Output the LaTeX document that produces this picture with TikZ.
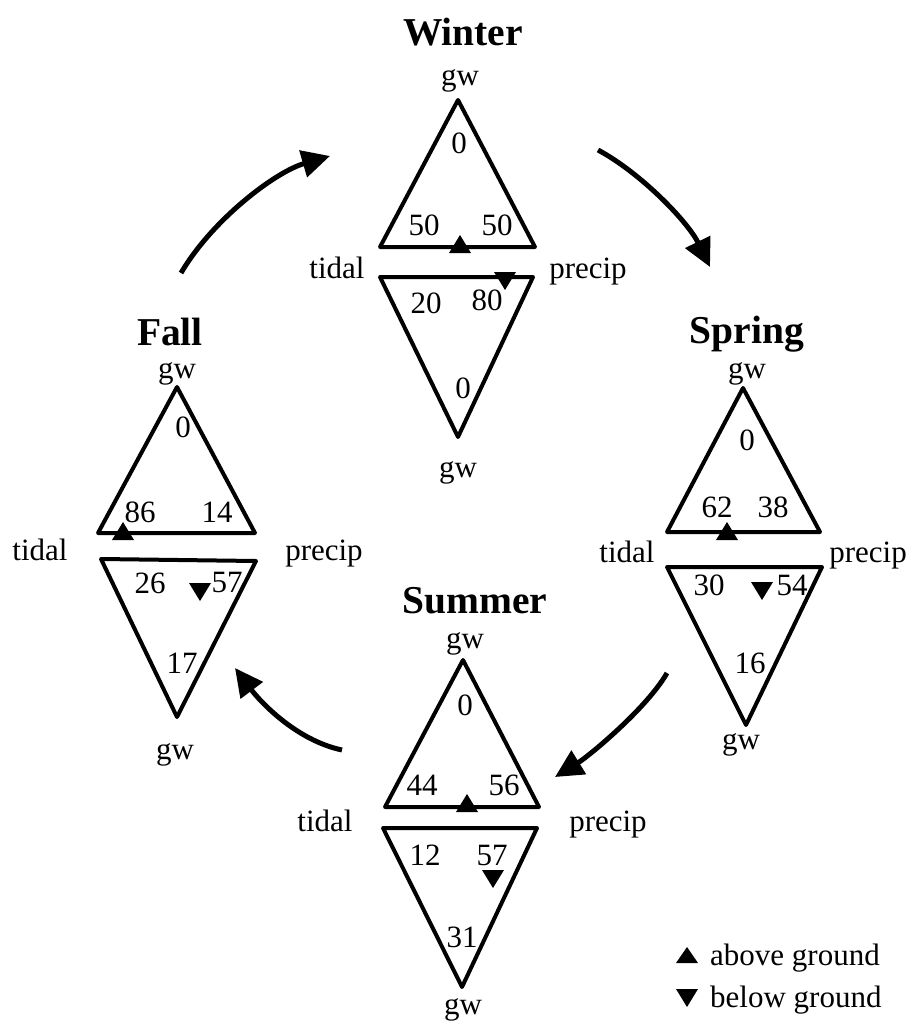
\documentclass[tikz,border=0pt]{standalone}
\usepackage{fontspec}
\setmainfont{Liberation Serif}
\usetikzlibrary{arrows.meta}
\tikzset{
  lbl/.style={font=\fontsize{31}{37}\selectfont, inner sep=0pt, anchor=base},
  ttl/.style={font=\fontsize{39.5}{45}\selectfont\bfseries, inner sep=0pt, anchor=base},
  tri/.style={line width=4pt, line join=round},
  flow/.style={line width=5pt, -{Triangle[length=28pt,width=27pt]}},
}
\newcommand\upmk[1]{\fill (#1) +(-11,9) -- +(11,9) -- +(0,-9) -- cycle;}
\newcommand\dnmk[1]{\fill (#1) +(-11,-9) -- +(11,-9) -- +(0,9) -- cycle;}
\begin{document}
\begin{tikzpicture}[x=1pt,y=-1pt]
\useasboundingbox (0,0) rectangle (914,1036);

% ---------- Winter ----------
\draw[tri] (458,100) -- (535,247) -- (380,247) -- cycle;
\draw[tri] (380,277) -- (533,277) -- (458,437) -- cycle;
\upmk{460,244}
\dnmk{505,281}
\node[ttl] (wT) at (463,45) {Winter};
\node[lbl] (wg1) at (460,85) {gw};
\node[lbl] (wa) at (459,153) {0};
\node[lbl] (wb) at (424,235) {50};
\node[lbl] (wc) at (497,235) {50};
\node[lbl] (wtd) at (337,278) {tidal};
\node[lbl] (wpr) at (588,278) {precip};
\node[lbl] (wd) at (426,313) {20};
\node[lbl] (we) at (487,310) {80};
\node[lbl] (wf) at (463,398) {0};
\node[lbl] (wg2) at (458,477) {gw};

% ---------- Fall ----------
\draw[tri] (177,387) -- (255,533) -- (98,533) -- cycle;
\draw[tri] (101,559) -- (256,561) -- (177,717) -- cycle;
\upmk{123,531}
\dnmk{200,592}
\node[ttl] (fT) at (170,345) {Fall};
\node[lbl] (fg1) at (177,378) {gw};
\node[lbl] (fa) at (183,437) {0};
\node[lbl] (fb) at (140,522) {86};
\node[lbl] (fc) at (217,522) {14};
\node[lbl] (ftd) at (40,560) {tidal};
\node[lbl] (fpr) at (324,560) {precip};
\node[lbl] (fd) at (150,593) {26};
\node[lbl] (fe) at (227,592) {57};
\node[lbl] (ff) at (182,673) {17};
\node[lbl] (fg2) at (175,759) {gw};

% ---------- Spring ----------
\draw[tri] (743,388) -- (820,532) -- (667,532) -- cycle;
\draw[tri] (667,567) -- (822,567) -- (746,725) -- cycle;
\upmk{727,531}
\dnmk{762,591}
\node[ttl] (sT) at (747,343) {Spring};
\node[lbl] (sg1) at (747,378) {gw};
\node[lbl] (sa) at (747,450) {0};
\node[lbl] (sb) at (717,517) {62};
\node[lbl] (sc) at (773,517) {38};
\node[lbl] (std) at (627,562) {tidal};
\node[lbl] (spr) at (868,562) {precip};
\node[lbl] (sd) at (709,595) {30};
\node[lbl] (se) at (792,595) {54};
\node[lbl] (sf) at (750,673) {16};
\node[lbl] (sg2) at (741,749) {gw};

% ---------- Summer ----------
\draw[tri] (463,660) -- (539,807) -- (385,807) -- cycle;
\draw[tri] (383,828) -- (537,828) -- (462,987) -- cycle;
\upmk{467,803}
\dnmk{493,879}
\node[ttl] (uT) at (475,613) {Summer};
\node[lbl] (ug1) at (465,648) {gw};
\node[lbl] (ua) at (465,715) {0};
\node[lbl] (ub) at (422,795) {44};
\node[lbl] (uc) at (504,795) {56};
\node[lbl] (utd) at (325,831) {tidal};
\node[lbl] (upr) at (608,831) {precip};
\node[lbl] (ud) at (425,865) {12};
\node[lbl] (ue) at (492,865) {57};
\node[lbl] (uf) at (462,947) {31};
\node[lbl] (ug2) at (463,1014) {gw};

% ---------- cycle arrows ----------
\coordinate (a1s) at (181,273); \coordinate (a1e) at (330,156);
\coordinate (a2s) at (598,150); \coordinate (a2e) at (710,267);
\coordinate (a3s) at (667,673); \coordinate (a3e) at (555,777);
\coordinate (a4s) at (342,750); \coordinate (a4e) at (235,668);
\draw[flow] (a1s) .. controls (212,220) and (275,172) .. (a1e);
\draw[flow] (a2s) .. controls (641,173) and (688,222) .. (a2e);
\draw[flow] (a3s) .. controls (647,708) and (589,756) .. (a3e);
\draw[flow] (a4s) .. controls (295,740) and (259,700) .. (a4e);

% ---------- legend ----------
\fill (687,955) +(-11,8) -- +(11,8) -- +(0,-8) -- cycle;
\fill (687,998) +(-11,-9) -- +(11,-9) -- +(0,9) -- cycle;
\node[lbl, anchor=base west] (lg1) at (710,965) {above ground};
\node[lbl, anchor=base west] (lg2) at (710,1007) {below ground};
\end{tikzpicture}
\end{document}
